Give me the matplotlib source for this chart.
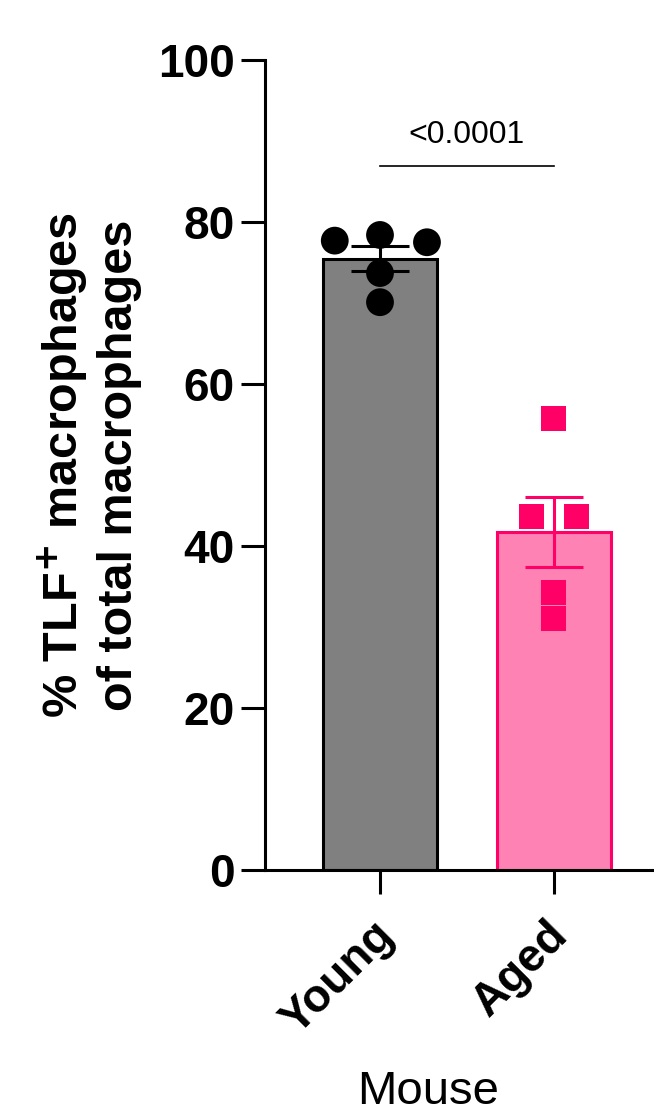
import numpy as np
import matplotlib
matplotlib.use("Agg")
import matplotlib.pyplot as plt

plt.rcParams["font.family"] = ["Liberation Sans", "DejaVu Sans"]

# data
groups = ["Young", "Aged"]
young_vals = [77.7, 78.4, 77.5, 73.7, 70.1]
aged_vals = [55.8, 43.6, 43.6, 34.3, 31.1]
young_jitter = [-0.26, 0.0, 0.27, 0.0, 0.0]
aged_jitter = [0.0, -0.13, 0.13, 0.0, 0.0]
p_label = "<0.0001"
p_height = 86.9
yticks = [0, 20, 40, 60, 80, 100]

bar_faces = ["#808080", "#FF82B4"]
bar_edges = ["#000000", "#FF0066"]
pt_colors = ["#000000", "#FF0066"]
markers = ["o", "s"]

W, H = 654, 1116
fig = plt.figure(figsize=(W / 100, H / 100), dpi=100)
ax = fig.add_axes([265 / W, 246 / H, 1 - 265 / W, (1056 - 246) / H])

lw = 2.2
all_vals = [young_vals, aged_vals]
all_jit = [young_jitter, aged_jitter]
for i, vals in enumerate(all_vals):
    v = np.array(vals)
    mean = v.mean()
    sem = v.std(ddof=1) / np.sqrt(len(v))
    ax.bar(i, mean, width=0.65, color=bar_faces[i], edgecolor=bar_edges[i],
           linewidth=lw, zorder=1)
    ax.scatter(i + np.array(all_jit[i]), v, s=(20 if i == 0 else 18) ** 2,
               marker=markers[i], color=pt_colors[i], edgecolor="none",
               zorder=2)
    ax.errorbar(i, mean, yerr=sem, fmt="none", ecolor=bar_edges[i],
                elinewidth=lw, capsize=21, capthick=lw, zorder=3)

# significance bar
ax.plot([0, 1], [p_height, p_height], color="black", lw=1.2)
ax.text(0.5, p_height + 2.0, p_label, ha="center", va="bottom", fontsize=23)

ax.set_xlim(-0.661, 1.575)
ax.set_ylim(0, 100)
ax.set_yticks(yticks)
ax.set_xticks([0, 1])
ax.set_xticklabels([])
# rotated group labels, placed like GraphPad does
for i, g in enumerate(groups):
    ax.annotate(g, xy=(i, 0), xycoords=("data", "axes fraction"),
                xytext=(-6, -31), textcoords="offset points",
                fontsize=33, fontweight="bold", rotation=45,
                ha="right", va="top", rotation_mode="anchor",
                annotation_clip=False)
for lab in ax.get_yticklabels():
    lab.set_fontsize(33)
    lab.set_fontweight("bold")

ax.spines["top"].set_visible(False)
ax.spines["right"].set_visible(False)
ax.spines["left"].set_linewidth(lw)
ax.spines["bottom"].set_linewidth(lw)
ax.spines["left"].set_bounds(0, 100)
ax.tick_params(axis="both", width=lw, length=17, pad=5)

ax.set_ylabel("% TLF$^{\\mathbf{+}}$ macrophages\nof total macrophages",
              fontsize=35, fontweight="bold", linespacing=1.2)
ax.yaxis.set_label_coords(-(265 - 142) / (W - 265), 0.5)
ax.set_xlabel("Mouse", fontsize=34)
ax.xaxis.set_label_coords((428 - 265) / (W - 265), -(1070 - 870) / 810)

fig.savefig("out.png", dpi=100)
